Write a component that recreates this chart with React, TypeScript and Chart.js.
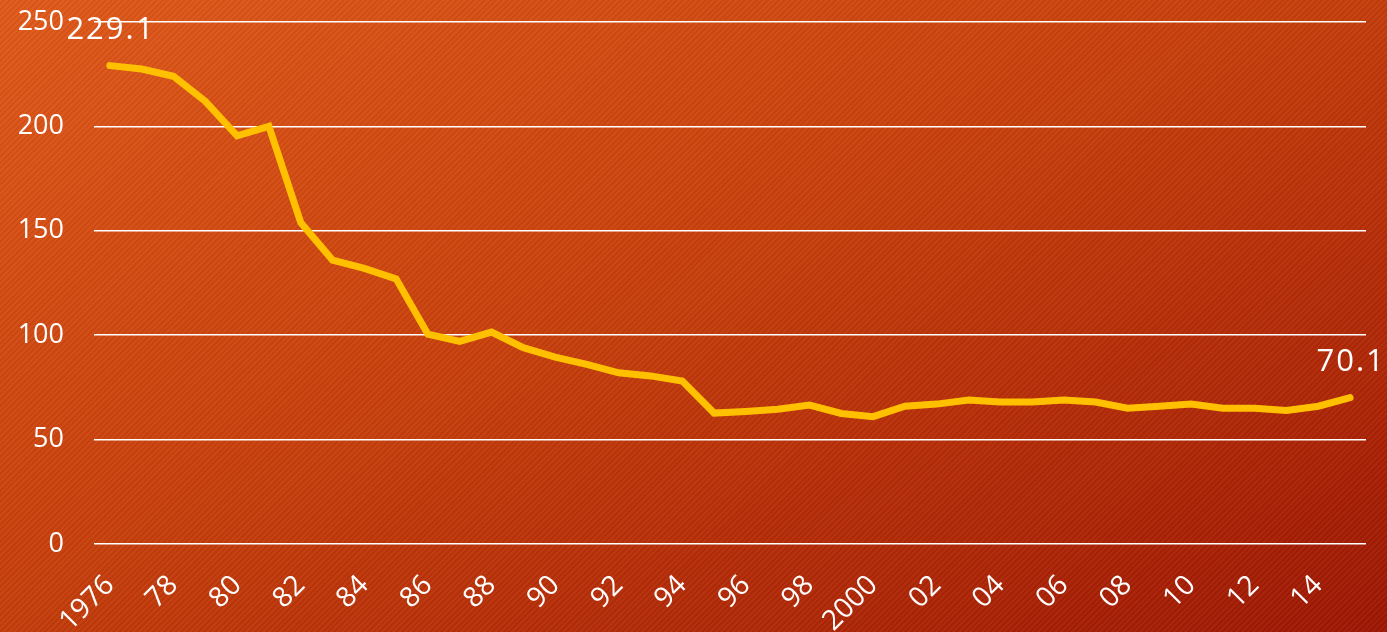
import React, { useEffect, useRef } from "react";
import { Chart, registerables } from "chart.js";

Chart.register(...registerables);

const years = [
  "1976", "77", "78", "79", "80", "81", "82", "83", "84", "85",
  "86", "87", "88", "89", "90", "91", "92", "93", "94", "95",
  "96", "97", "98", "99", "2000", "01", "02", "03", "04", "05",
  "06", "07", "08", "09", "10", "11", "12", "13", "14", "15",
];

const values = [
  229.1, 227.5, 224, 212, 195.5, 200, 154, 136, 132, 127,
  100.5, 97, 101.5, 94, 89.5, 86, 82, 80.5, 78, 62.7,
  63.5, 64.5, 66.5, 62.5, 61, 66, 67, 69, 68, 68,
  69, 68, 65, 66, 67, 65, 65, 64, 66, 70.1,
];

const yTicks = [0, 50, 100, 150, 200, 250];
const annotatedIndexes = [0, values.length - 1];

const FONT = "'Open Sans', 'Noto Sans', sans-serif";

const endLabels = {
  id: "endLabels",
  afterDatasetsDraw(chart: any) {
    const ctx = chart.ctx;
    const meta = chart.getDatasetMeta(0);
    ctx.save();
    ctx.fillStyle = "#ffffff";
    ctx.font = `31px ${FONT}`;
    ctx.textAlign = "center";
    ctx.textBaseline = "middle";
    try { (ctx as any).letterSpacing = "2px"; } catch (e) {}
    annotatedIndexes.forEach((i) => {
      const pt = meta.data[i];
      ctx.fillText(values[i].toFixed(1), pt.x + 1, pt.y - 35);
    });
    ctx.restore();
  },
};

export default function App() {
  const ref = useRef<HTMLCanvasElement>(null);
  useEffect(() => {
    const chart = new Chart(ref.current!, {
      type: "line",
      data: {
        labels: years,
        datasets: [
          {
            data: values,
            borderColor: "#FFC000",
            borderWidth: 7,
            borderCapStyle: "round",
            borderJoinStyle: "miter",
            pointRadius: 0,
            tension: 0,
            fill: false,
          },
        ],
      },
      options: {
        responsive: false,
        animation: false,
        layout: { padding: { top: 22, right: 21, left: 0, bottom: 0 } },
        plugins: { legend: { display: false }, tooltip: { enabled: false } },
        scales: {
          x: {
            type: "category",
            offset: true,
            grid: { display: false, drawTicks: false },
            border: { display: false },
            afterFit: (s: any) => { s.height = 88; s.paddingLeft = 0; s.paddingRight = 0; },
            ticks: {
              autoSkip: false,
              maxRotation: 45,
              minRotation: 45,
              padding: 25,
              color: "#ffffff",
              font: { family: FONT, size: 28 },
              callback: (_v: any, i: number) => (i % 2 === 0 ? years[i] : ""),
            },
          },
          y: {
            min: 0,
            max: 250,
            afterFit: (s: any) => { s.width = 94; s.paddingTop = 0; s.paddingBottom = 0; },
            afterBuildTicks: (s: any) => { s.ticks = yTicks.map((v) => ({ value: v })); },
            grid: { color: "#ffffff", lineWidth: 1.5, drawTicks: false },
            border: { display: false },
            ticks: {
              padding: 30,
              color: "#ffffff",
              font: { family: FONT, size: 27 },
            },
          },
        },
      },
      plugins: [endLabels],
    });
    return () => chart.destroy();
  }, []);

  return (
    <div
      style={{
        position: "absolute",
        left: 0,
        top: 0,
        width: 1387,
        height: 632,
        overflow: "hidden",
        background:
          "repeating-linear-gradient(135deg, rgba(255,255,255,0.035) 0px, rgba(255,255,255,0.035) 2px, rgba(0,0,0,0.035) 2px, rgba(0,0,0,0.035) 4px), linear-gradient(to bottom right, #E0591A 0%, #C8400C 45%, #9E1603 100%)",
      }}
    >
      <canvas ref={ref} width={1387} height={632} style={{ display: "block" }} />
    </div>
  );
}
